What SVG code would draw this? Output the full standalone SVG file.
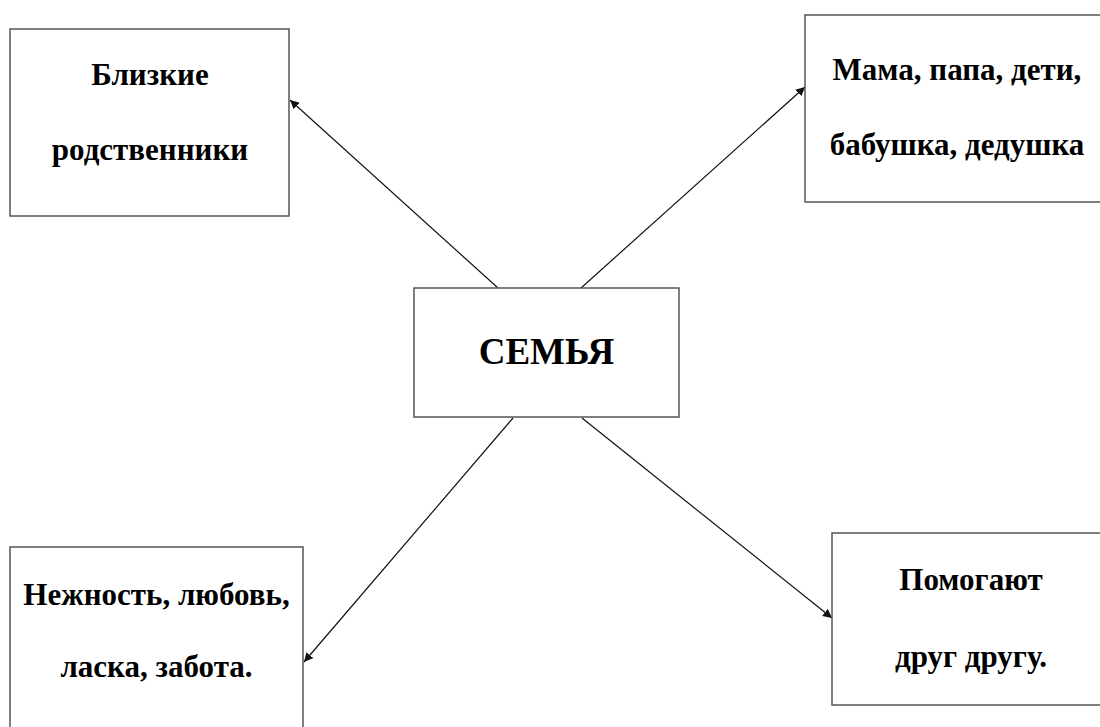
<svg xmlns="http://www.w3.org/2000/svg" width="1100" height="727" viewBox="0 0 1100 727">
<defs>
<marker id="ah" viewBox="0 0 10 10" refX="10" refY="5" markerWidth="9" markerHeight="9" markerUnits="userSpaceOnUse" orient="auto">
<path d="M0,0 L10,5 L0,10 z" fill="#111"/>
</marker>
<style>
.box{fill:#fff;stroke:#555;stroke-width:1.5}
.t{font-family:"Liberation Serif","Times New Roman",serif;font-weight:bold;font-size:31px;fill:#000;text-anchor:middle}
.big{font-size:37px}
.c{stroke:#111;stroke-width:1.2;fill:none;marker-end:url(#ah)}
</style>
</defs>
<rect width="1100" height="727" fill="#fff"/>
<g id="connectors">
<line class="c" x1="498" y1="288" x2="290" y2="100"/>
<line class="c" x1="581" y1="288" x2="805" y2="87"/>
<line class="c" x1="513" y1="418" x2="304" y2="662"/>
<line class="c" x1="582" y1="418" x2="832" y2="618"/>
</g>
<g id="center">
<rect class="box" x="414" y="288" width="265" height="129"/>
<text class="t big" x="546.5" y="364">СЕМЬЯ</text>
</g>
<g id="n1">
<rect class="box" x="10" y="29" width="279" height="187"/>
<text class="t" x="150" y="85">Близкие</text>
<text class="t" x="150" y="160">родственники</text>
</g>
<g id="n2">
<rect class="box" x="805" y="15" width="310" height="187"/>
<text class="t" x="957" y="80">Мама, папа, дети,</text>
<text class="t" x="957" y="155">бабушка, дедушка</text>
</g>
<g id="n3">
<rect class="box" x="10" y="547" width="293" height="200"/>
<text class="t" x="156.5" y="605">Нежность, любовь,</text>
<text class="t" x="156.5" y="677">ласка, забота.</text>
</g>
<g id="n4">
<rect class="box" x="832" y="533" width="290" height="172"/>
<text class="t" x="971" y="590">Помогают</text>
<text class="t" x="971" y="667">друг другу.</text>
</g>
</svg>
